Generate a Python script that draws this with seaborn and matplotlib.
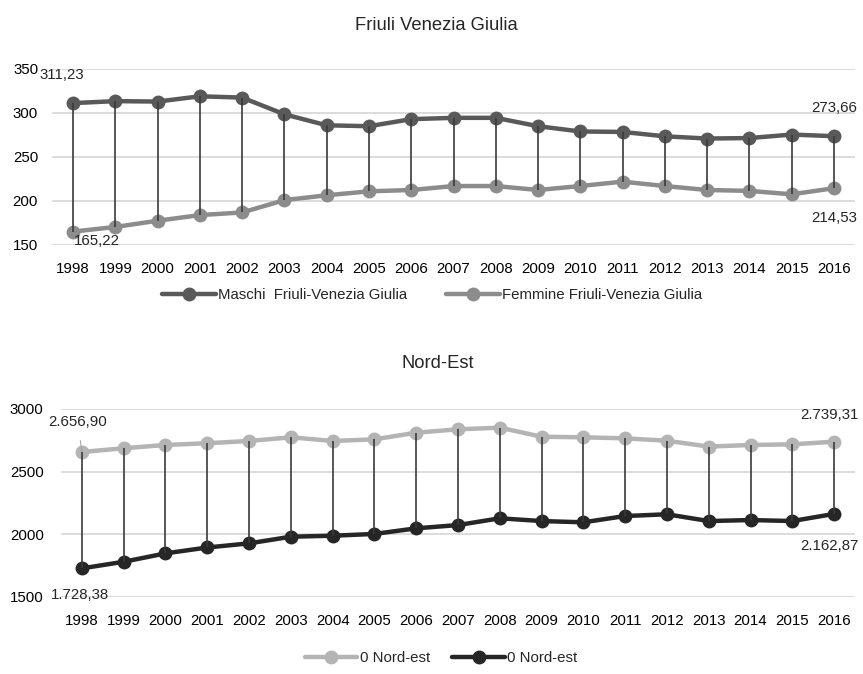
import pandas as pd
import seaborn as sns
import matplotlib.pyplot as plt
import numpy as np

# Data
anni = list(range(1998, 2017))
maschi_fvg = [311.23, 313.5, 313.0, 319.0, 317.5, 298.5, 286.0, 285.0, 293.0, 294.5,
              294.5, 285.0, 279.0, 278.5, 273.5, 271.0, 271.5, 275.5, 273.66]
femmine_fvg = [165.22, 170.5, 177.6, 184.0, 187.0, 201.0, 206.5, 211.0, 212.5, 217.0,
               217.0, 212.5, 217.0, 222.0, 217.0, 212.5, 211.5, 207.6, 214.53]
nordest_alto = [2656.90, 2687, 2713, 2727, 2745, 2774, 2745, 2758, 2811, 2838,
                2851, 2779, 2774, 2766, 2747, 2700, 2713, 2718, 2739.31]
nordest_basso = [1728.38, 1781, 1848, 1895, 1928, 1981, 1989, 2003, 2048, 2074,
                 2128, 2106, 2096, 2146, 2160, 2106, 2114, 2106, 2162.87]

labels_top = ['Maschi  Friuli-Venezia Giulia', 'Femmine Friuli-Venezia Giulia']
labels_bot = ['0 Nord-est', '0 Nord-est']
colori_top = ['#595959', '#8c8c8c']
colori_bot = ['#b4b4b4', '#262626']

sns.set_style('white')
plt.rcParams['font.family'] = ['Liberation Sans', 'DejaVu Sans']
fs = 10.8
plt.rcParams['font.size'] = fs

df_top = pd.DataFrame({'anno': anni * 2,
                       'valore': maschi_fvg + femmine_fvg,
                       'serie': ['m'] * len(anni) + ['f'] * len(anni)})
df_bot = pd.DataFrame({'anno': anni * 2,
                       'valore': nordest_alto + nordest_basso,
                       'serie': ['a'] * len(anni) + ['b'] * len(anni)})

fig = plt.figure(figsize=(8.63, 6.74), dpi=100)
ax1 = fig.add_axes([52 / 863, 1 - 245 / 674, 803 / 863, 176 / 674])
ax2 = fig.add_axes([61 / 863, 1 - 597 / 674, 794 / 863, 188 / 674])


def draw(ax, df, alto, basso, colori, ylim, step, ypad):
    # high-low lines between the two series
    ax.vlines(anni, basso, alto, color='#3a3a3a', lw=1.2, zorder=4)
    sns.lineplot(data=df, x='anno', y='valore', hue='serie', palette=colori,
                 marker='o', markersize=10, markeredgewidth=0, lw=3.2,
                 ax=ax, zorder=3)
    ax.set_xlim(1997.5, 2016.5)
    ax.set_ylim(*ylim)
    ax.set_xticks(anni)
    ax.set_yticks(np.arange(ylim[0], ylim[1] + 1, step))
    ax.grid(axis='y', color='#d9d9d9', lw=1.3)
    ax.set_axisbelow(True)
    for s in ax.spines.values():
        s.set_visible(False)
    ax.tick_params(axis='both', length=0, labelsize=fs, colors='black')
    ax.tick_params(axis='x', pad=12)
    ax.tick_params(axis='y', pad=ypad)
    ax.set_xlabel('')
    ax.set_ylabel('')
    handles = ax.get_legend_handles_labels()[0]
    ax.get_legend().remove()
    return handles


h1 = draw(ax1, df_top, maschi_fvg, femmine_fvg, colori_top, (150, 350), 50, 10)
h2 = draw(ax2, df_bot, nordest_alto, nordest_basso, colori_bot, (1500, 3000), 500, 12.5)

ax1.annotate('311,23', (anni[0], maschi_fvg[0]), xytext=(-8, 20), textcoords='offset points',
             ha='center', va='center', fontsize=fs)
ax1.annotate('165,22', (anni[0], femmine_fvg[0]), xytext=(17, -7), textcoords='offset points',
             ha='center', va='center', fontsize=fs)
ax1.annotate('273,66', (anni[-1], maschi_fvg[-1]), xytext=(0, 20), textcoords='offset points',
             ha='center', va='center', fontsize=fs)
ax1.annotate('214,53', (anni[-1], femmine_fvg[-1]), xytext=(0, -21.5), textcoords='offset points',
             ha='center', va='center', fontsize=fs)

ax2.annotate('2.656,90', (anni[0], nordest_alto[0]), xytext=(-3, 21.5), textcoords='offset points',
             ha='center', va='center', fontsize=fs,
             arrowprops=dict(arrowstyle='-', color='#a6a6a6', lw=0.8, shrinkA=6, shrinkB=0))
ax2.annotate('1.728,38', (anni[0], nordest_basso[0]), xytext=(-1.5, -19), textcoords='offset points',
             ha='center', va='center', fontsize=fs)
ax2.annotate('2.739,31', (anni[-1], nordest_alto[-1]), xytext=(-3.5, 19), textcoords='offset points',
             ha='center', va='center', fontsize=fs)
ax2.annotate('2.162,87', (anni[-1], nordest_basso[-1]), xytext=(-3.5, -23), textcoords='offset points',
             ha='center', va='center', fontsize=fs)

fig.text(436 / 863, 1 - 26 / 674, 'Friuli Venezia Giulia', ha='center', va='center', fontsize=13.2)
fig.text(438 / 863, 1 - 364 / 674, 'Nord-Est', ha='center', va='center', fontsize=13.2)

fig.legend(h1, labels_top, loc='center', bbox_to_anchor=(432 / 863, 1 - 295 / 674), ncol=2,
           frameon=False, handlelength=3.6, handletextpad=0.15, columnspacing=2.6, fontsize=fs)
fig.legend(h2, labels_bot, loc='center', bbox_to_anchor=(441 / 863, 1 - 658 / 674), ncol=2,
           frameon=False, handlelength=3.5, handletextpad=0.15, columnspacing=1.5, fontsize=fs)

fig.savefig('out.png', dpi=100)
